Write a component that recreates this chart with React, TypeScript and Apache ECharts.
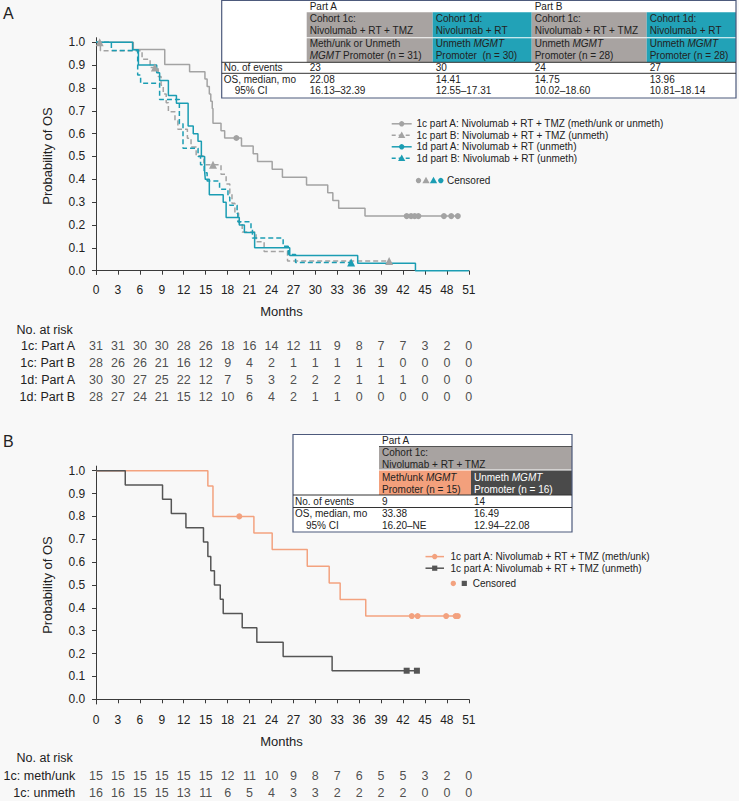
import React, { useEffect, useRef } from "react";
import * as echarts from "echarts";

const FONT = "'Liberation Sans', Arial, Helvetica, sans-serif";
const BG = "#f8f8f8";
const GRAY = "#a3a3a3";
const TEAL = "#1b9db3";
const ORANGE = "#f3a27f";
const DARK = "#555555";
const CELL_GRAY = "#a8a3a1";
const CELL_TEAL = "#22a2b7";
const CELL_ORANGE = "#f3a07c";
const CELL_DARK = "#4a4a4a";
const BORDER = "#4d5a7c";
const INK = "#222222";

// ---------- axes ----------
const MONTH_TICKS = [0, 3, 6, 9, 12, 15, 18, 21, 24, 27, 30, 33, 36, 39, 42, 45, 48, 51];
const PROB_TICKS = [0, 0.1, 0.2, 0.3, 0.4, 0.5, 0.6, 0.7, 0.8, 0.9, 1.0];

// ---------- Panel A: KM data (event times / survival after event) ----------
const A_1C_PA_TIMES = [5.1, 9.4, 12.8, 14.9, 15.2, 15.5, 15.7, 15.9, 16.0, 17.1, 17.6, 19.9, 21.5, 22.1, 24.1, 25.5, 28.8, 31.7, 32.4, 33.2, 36.8];
const A_1C_PA_SURV = [0.968, 0.903, 0.871, 0.839, 0.806, 0.774, 0.742, 0.71, 0.645, 0.613, 0.581, 0.546, 0.512, 0.478, 0.444, 0.409, 0.375, 0.341, 0.307, 0.273, 0.239];
const A_1C_PA_CENSOR = [19.2, 42.5, 43.1, 43.6, 44.1, 47.6, 48.6, 49.5];

const A_1C_PB_TIMES = [0.6, 6.3, 7.4, 8.5, 8.9, 9.2, 9.6, 9.9, 10.8, 11.2, 12.5, 13.0, 13.7, 14.75, 17.1, 17.8, 18.3, 18.6, 19.0, 19.5, 20.0, 21.9, 23.0, 26.2];
const A_1C_PB_SURV = [0.963, 0.926, 0.889, 0.85, 0.812, 0.773, 0.735, 0.696, 0.657, 0.619, 0.58, 0.541, 0.503, 0.464, 0.422, 0.38, 0.338, 0.295, 0.253, 0.211, 0.169, 0.127, 0.084, 0.042];
const A_1C_PB_CENSOR = [0.5, 8.05, 16.0, 40.1];

const A_1D_PA_TIMES = [5.0, 5.8, 8.3, 8.7, 9.9, 11.0, 12.6, 13.3, 13.95, 14.41, 14.86, 14.95, 15.5, 17.4, 17.8, 19.6, 20.3, 21.7, 26.5, 35.8, 43.7];
const A_1D_PA_SURV = [0.967, 0.9, 0.867, 0.833, 0.767, 0.733, 0.633, 0.6, 0.567, 0.5, 0.433, 0.4, 0.333, 0.3, 0.233, 0.2, 0.167, 0.1, 0.067, 0.033, 0.0];
const A_1D_PA_CENSOR: number[] = [];

const A_1D_PB_TIMES = [2.1, 5.7, 6.1, 8.7, 11.4, 11.9, 13.96, 14.3, 14.8, 15.2, 16.9, 18.05, 18.3, 19.3, 19.4, 21.2, 21.4, 25.6, 26.3, 27.3];
const A_1D_PB_SURV = [0.964, 0.857, 0.821, 0.75, 0.643, 0.536, 0.5, 0.464, 0.429, 0.393, 0.357, 0.321, 0.286, 0.25, 0.214, 0.179, 0.143, 0.107, 0.071, 0.036];
const A_1D_PB_CENSOR = [34.9];

// ---------- Panel A: number at risk ----------
const A_RISK_LABELS = ["1c: Part A", "1c: Part B", "1d: Part A", "1d: Part B"];
const A_RISK_1C_PA = [31, 31, 30, 30, 28, 26, 18, 16, 14, 12, 11, 9, 8, 7, 7, 3, 2, 0];
const A_RISK_1C_PB = [28, 26, 26, 21, 16, 12, 9, 4, 2, 1, 1, 1, 1, 1, 0, 0, 0, 0];
const A_RISK_1D_PA = [30, 30, 27, 25, 22, 12, 7, 5, 3, 2, 2, 2, 1, 1, 1, 0, 0, 0];
const A_RISK_1D_PB = [28, 27, 24, 21, 15, 12, 10, 6, 4, 2, 1, 1, 0, 0, 0, 0, 0, 0];

// ---------- Panel B: KM data ----------
const B_METH_TIMES = [15.3, 16.0, 21.6, 24.1, 28.9, 31.9, 33.4, 36.9];
const B_METH_SURV = [0.933, 0.8, 0.727, 0.655, 0.582, 0.509, 0.436, 0.364];
const B_METH_CENSOR = [19.6, 43.2, 44.0, 47.9, 49.2, 49.5];

const B_UNMETH_TIMES = [4.0, 9.1, 10.3, 12.3, 14.7, 15.3, 15.7, 16.2, 17.0, 17.4, 20.0, 22.0, 25.6, 32.3];
const B_UNMETH_SURV = [0.9375, 0.875, 0.8125, 0.75, 0.6875, 0.625, 0.5625, 0.5, 0.4375, 0.375, 0.3125, 0.25, 0.1875, 0.125];
const B_UNMETH_CENSOR = [42.5, 43.9];

const B_RISK_LABELS = ["1c: meth/unk", "1c: unmeth"];
const B_RISK_METH = [15, 15, 15, 15, 15, 15, 12, 11, 10, 9, 8, 7, 6, 5, 5, 3, 2, 0];
const B_RISK_UNMETH = [16, 16, 15, 15, 13, 11, 6, 5, 4, 3, 3, 2, 2, 2, 2, 0, 0, 0];

// ---------- helpers ----------
function kmSteps(times: number[], surv: number[], end: number) {
  const pts: number[][] = [[0, 1]];
  times.forEach((t, i) => pts.push([t, surv[i]]));
  const last = pts[pts.length - 1];
  if (end > last[0]) pts.push([end, last[1]]);
  return pts;
}
function levelAt(times: number[], surv: number[], t: number) {
  let s = 1;
  for (let i = 0; i < times.length; i++) if (times[i] <= t) s = surv[i];
  return s;
}
function censorPts(times: number[], surv: number[], cens: number[]) {
  return cens.map((c) => [c, levelAt(times, surv, c)]);
}
function lastTime(times: number[], cens: number[]) {
  return Math.max(times[times.length - 1], ...(cens.length ? cens : [0]));
}

function txt(x: number, y: number, text: string, o: any = {}) {
  return {
    type: "text", x, y, silent: true, z: 50,
    style: { text, fontSize: 10, fontFamily: FONT, fill: INK, align: "left", verticalAlign: "middle", ...o },
  };
}
function rtxt(x: number, y: number, text: string, fill = INK, size = 10) {
  const base = { fontSize: size, fontFamily: FONT, fill };
  return {
    type: "text", x, y, silent: true, z: 50,
    style: {
      text, ...base, align: "left", verticalAlign: "middle",
      rich: { i: { ...base, fontStyle: "italic" }, n: { ...base } },
    },
  };
}
function rect(x: number, y: number, w: number, h: number, fill: string, o: any = {}) {
  return { type: "rect", silent: true, z: 40, shape: { x, y, width: w, height: h }, style: { fill, ...o } };
}
function hline(x1: number, x2: number, y: number, stroke: string, w = 1) {
  return { type: "line", silent: true, z: 45, shape: { x1, y1: y, x2, y2: y }, style: { stroke, lineWidth: w } };
}
function tri(cx: number, cy: number, r: number, fill: string) {
  return {
    type: "polygon", silent: true, z: 50,
    shape: { points: [[cx, cy - r], [cx + r * 0.95, cy + r * 0.7], [cx - r * 0.95, cy + r * 0.7]] },
    style: { fill },
  };
}
function dot(cx: number, cy: number, r: number, fill: string) {
  return { type: "circle", silent: true, z: 50, shape: { cx, cy, r }, style: { fill } };
}
function sq(cx: number, cy: number, r: number, fill: string) {
  return rect(cx - r, cy - r, 2 * r, 2 * r, fill, {});
}
function legendLine(x1: number, x2: number, y: number, color: string, dashed: boolean) {
  return {
    type: "line", silent: true, z: 50, shape: { x1, y1: y, x2, y2: y },
    style: { stroke: color, lineWidth: 1.5, lineDash: dashed ? [4, 3] : null },
  };
}

function tableA() {
  const X = [221.7, 306.7, 432.7, 531.7, 646.7, 736];
  const Y = [0.5, 12.3, 37.7, 62.3, 73.3, 98];
  const fills = [CELL_GRAY, CELL_TEAL, CELL_GRAY, CELL_TEAL];
  const els: any[] = [rect(X[0], Y[0], X[5] - X[0], Y[5] - Y[0], "#ffffff")];
  for (let c = 0; c < 4; c++) {
    els.push(rect(X[c + 1], Y[1], X[c + 2] - X[c + 1], Y[2] - Y[1] - 0.5, fills[c]));
    els.push(rect(X[c + 1], Y[2] + 0.5, X[c + 2] - X[c + 1], Y[3] - Y[2] - 0.5, fills[c]));
  }
  els.push(hline(X[0], X[5], Y[3], "#333333", 1));
  els.push(hline(X[0], X[5], Y[4], "#333333", 1));
  els.push(rect(X[0], Y[0], X[5] - X[0], Y[5] - Y[0], "none", { stroke: BORDER, lineWidth: 1.2 }));
  els.push(txt(X[1] + 3, 6.4, "Part A"));
  els.push(txt(X[3] + 3, 6.4, "Part B"));
  const cohort = [
    ["Cohort 1c:", "Nivolumab + RT + TMZ"],
    ["Cohort 1d:", "Nivolumab + RT"],
    ["Cohort 1c:", "Nivolumab + RT + TMZ"],
    ["Cohort 1d:", "Nivolumab + RT"],
  ];
  const prom = [
    ["{n|Meth/unk or Unmeth}", "{i|MGMT}{n| Promoter (n = 31)}"],
    ["{n|Unmeth }{i|MGMT}", "{n|Promoter  (n = 30)}"],
    ["{n|Unmeth }{i|MGMT}", "{n|Promoter (n = 28)}"],
    ["{n|Unmeth }{i|MGMT}", "{n|Promoter (n = 28)}"],
  ];
  const events = ["23", "30", "24", "27"];
  const med = [
    ["22.08", "16.13\u201332.39"],
    ["14.41", "12.55\u201317.31"],
    ["14.75", "10.02\u201318.60"],
    ["13.96", "10.81\u201318.14"],
  ];
  for (let c = 0; c < 4; c++) {
    const x = X[c + 1] + 3;
    els.push(txt(x, 18.6, cohort[c][0]));
    els.push(txt(x, 30.2, cohort[c][1]));
    els.push(rtxt(x, 43.5, prom[c][0]));
    els.push(rtxt(x, 55.0, prom[c][1]));
    els.push(txt(x, 67.9, events[c]));
    els.push(txt(x, 79.9, med[c][0]));
    els.push(txt(x, 90.6, med[c][1]));
  }
  els.push(txt(X[0] + 2, 67.9, "No. of events"));
  els.push(txt(X[0] + 2, 79.9, "OS, median, mo"));
  els.push(txt(X[0] + 13, 90.6, "95% CI"));
  return els;
}

function tableB() {
  const X = [293, 379, 471, 572];
  const Y = [434.5, 446.5, 470, 495, 507.5, 532];
  const els: any[] = [rect(X[0], Y[0], X[3] - X[0], Y[5] - Y[0], "#ffffff")];
  els.push(rect(X[1], Y[1], X[3] - X[1], Y[2] - Y[1] - 0.5, CELL_GRAY));
  els.push(rect(X[1], Y[2] + 0.5, X[2] - X[1], Y[3] - Y[2] - 0.5, CELL_ORANGE));
  els.push(rect(X[2], Y[2] + 0.5, X[3] - X[2], Y[3] - Y[2] - 0.5, CELL_DARK));
  els.push(hline(X[0], X[3], Y[3], "#333333", 1));
  els.push(hline(X[0], X[3], Y[4], "#333333", 1));
  els.push(hline(X[1], X[3], Y[1], "#333333", 0.8));
  els.push(rect(X[0], Y[0], X[3] - X[0], Y[5] - Y[0], "none", { stroke: BORDER, lineWidth: 1.2 }));
  els.push(txt(X[1] + 3, 440.6, "Part A"));
  els.push(txt(X[1] + 3, 452.6, "Cohort 1c:"));
  els.push(txt(X[1] + 3, 464.2, "Nivolumab + RT + TMZ"));
  els.push(rtxt(X[1] + 3, 477.0, "{n|Meth/unk }{i|MGMT}"));
  els.push(rtxt(X[1] + 3, 489.0, "{n|Promoter (n = 15)}"));
  els.push(rtxt(X[2] + 3, 477.0, "{n|Unmeth }{i|MGMT}", "#ffffff"));
  els.push(rtxt(X[2] + 3, 489.0, "{n|Promoter (n = 16)}", "#ffffff"));
  els.push(txt(X[1] + 3, 501.4, "9"));
  els.push(txt(X[2] + 3, 501.4, "14"));
  els.push(txt(X[1] + 3, 513.6, "33.38"));
  els.push(txt(X[1] + 3, 525.4, "16.20\u2013NE"));
  els.push(txt(X[2] + 3, 513.6, "16.49"));
  els.push(txt(X[2] + 3, 525.4, "12.94\u201322.08"));
  els.push(txt(X[0] + 2, 501.4, "No. of events"));
  els.push(txt(X[0] + 2, 513.6, "OS, median, mo"));
  els.push(txt(X[0] + 13, 525.4, "95% CI"));
  return els;
}

function legends() {
  const els: any[] = [];
  const lx1 = 391.7, lx2 = 411.7, lm = 401.7, tx = 416.5;
  const rowsA = [
    { y: 123.8, c: GRAY, d: false, m: "c", t: "1c part A: Nivolumab + RT + TMZ (meth/unk or unmeth)" },
    { y: 135.3, c: GRAY, d: true, m: "t", t: "1c part B: Nivolumab + RT + TMZ (unmeth)" },
    { y: 146.8, c: TEAL, d: false, m: "c", t: "1d part A: Nivolumab + RT (unmeth)" },
    { y: 158.3, c: TEAL, d: true, m: "t", t: "1d part B: Nivolumab + RT (unmeth)" },
  ];
  rowsA.forEach((r) => {
    els.push(legendLine(lx1, lx2, r.y, r.c, r.d));
    els.push(r.m === "c" ? dot(lm, r.y, 2.7, r.c) : tri(lm, r.y, 3.8, r.c));
    els.push(txt(tx, r.y, r.t));
  });
  const cy = 180.6;
  els.push(dot(418.5, cy, 2.7, GRAY));
  els.push(tri(426, cy, 3.8, GRAY));
  els.push(tri(433.5, cy, 3.8, TEAL));
  els.push(dot(440.8, cy, 2.7, TEAL));
  els.push(txt(447, cy, "Censored"));

  const bx1 = 425.5, bx2 = 444, bm = 434.7, btx = 450.5;
  const rowsB = [
    { y: 556.6, c: ORANGE, m: "c", t: "1c part A: Nivolumab + RT + TMZ (meth/unk)" },
    { y: 568.2, c: DARK, m: "s", t: "1c part A: Nivolumab + RT + TMZ (unmeth)" },
  ];
  rowsB.forEach((r) => {
    els.push(legendLine(bx1, bx2, r.y, r.c, false));
    els.push(r.m === "c" ? dot(bm, r.y, 2.7, r.c) : sq(bm, r.y, 2.6, r.c));
    els.push(txt(btx, r.y, r.t));
  });
  els.push(dot(453.3, 583.4, 2.7, ORANGE));
  els.push(sq(464.3, 583.4, 2.6, DARK));
  els.push(txt(472.7, 583.4, "Censored"));
  return els;
}

const GRID_LEFT = 94.2;
const GRID_W = 374.6;
const X_MIN = -0.25;
const X_MAX = 51;

function mainX(gridIndex: number) {
  return {
    type: "value", gridIndex, min: X_MIN, max: X_MAX,
    axisLine: { show: true, lineStyle: { color: "#3a3a3a", width: 1 } },
    axisTick: { show: true, length: 4, customValues: MONTH_TICKS, lineStyle: { color: "#3a3a3a" } },
    axisLabel: { show: true, customValues: MONTH_TICKS, fontSize: 12, fontFamily: FONT, color: INK, margin: 10 },
    splitLine: { show: false },
    name: "Months", nameLocation: "middle", nameGap: 31,
    nameTextStyle: { fontSize: 13, fontFamily: FONT, color: INK },
  };
}
function mainY(gridIndex: number, min: number) {
  return {
    type: "value", gridIndex, min, max: 1.02,
    axisLine: { show: true, lineStyle: { color: "#3a3a3a", width: 1 } },
    axisTick: { show: true, length: 4, customValues: PROB_TICKS, lineStyle: { color: "#3a3a3a" } },
    axisLabel: {
      show: true, customValues: PROB_TICKS, fontSize: 12, fontFamily: FONT, color: INK, margin: 9,
      formatter: (v: number) => v.toFixed(1),
    },
    splitLine: { show: false },
    name: "Probability of OS", nameLocation: "middle", nameGap: 40,
    nameTextStyle: { fontSize: 13, fontFamily: FONT, color: INK },
  };
}
function riskX(gridIndex: number) {
  return { type: "value", gridIndex, min: X_MIN, max: X_MAX, show: false };
}
function riskY(gridIndex: number, labels: string[]) {
  return {
    type: "category", gridIndex, data: labels, inverse: true,
    axisLine: { show: false }, axisTick: { show: false }, splitLine: { show: false },
    axisLabel: { interval: 0, fontSize: 12.5, fontFamily: FONT, color: INK, margin: 19 },
  };
}

function kmSeries(name: string, xi: number, times: number[], surv: number[], end: number, color: string, dashed: boolean) {
  return {
    type: "line", name, xAxisIndex: xi, yAxisIndex: xi, step: "end",
    data: kmSteps(times, surv, end), symbol: "none", showSymbol: false, silent: true,
    lineStyle: { color, width: 1.5, type: dashed ? [5, 3] : "solid" },
    z: 3,
  };
}
function censorSeries(xi: number, times: number[], surv: number[], cens: number[], color: string, symbol: string, size: number) {
  return {
    type: "scatter", xAxisIndex: xi, yAxisIndex: xi, symbol, symbolSize: size, silent: true,
    data: censorPts(times, surv, cens), itemStyle: { color, opacity: 1 }, z: 4,
  };
}
function riskSeries(xi: number, rows: number[][]) {
  const data: any[] = [];
  rows.forEach((row, r) => row.forEach((v, i) => data.push([MONTH_TICKS[i], r, v])));
  return {
    type: "scatter", xAxisIndex: xi, yAxisIndex: xi, symbolSize: 1, silent: true,
    itemStyle: { color: "rgba(0,0,0,0)" },
    label: {
      show: true, position: "inside", fontSize: 12.5, fontFamily: FONT, color: INK,
      formatter: (p: any) => String(p.value[2]),
    },
    labelLayout: { hideOverlap: false },
    data,
  };
}

function buildOption() {
  return {
    animation: false,
    backgroundColor: BG,
    textStyle: { fontFamily: FONT },
    grid: [
      { left: GRID_LEFT, width: GRID_W, top: 37.7, height: 236.65 },
      { left: GRID_LEFT, width: GRID_W, top: 337.5, height: 68 },
      { left: GRID_LEFT, width: GRID_W, top: 466.1, height: 237.9 },
      { left: GRID_LEFT, width: GRID_W, top: 767.5, height: 34 },
    ],
    xAxis: [mainX(0), riskX(1), mainX(2), riskX(3)],
    yAxis: [mainY(0, -0.016), riskY(1, A_RISK_LABELS), mainY(2, -0.0206), riskY(3, B_RISK_LABELS)],
    series: [
      kmSeries("1c part A", 0, A_1C_PA_TIMES, A_1C_PA_SURV, lastTime(A_1C_PA_TIMES, A_1C_PA_CENSOR), GRAY, false),
      kmSeries("1c part B", 0, A_1C_PB_TIMES, A_1C_PB_SURV, lastTime(A_1C_PB_TIMES, A_1C_PB_CENSOR), GRAY, true),
      kmSeries("1d part A", 0, A_1D_PA_TIMES, A_1D_PA_SURV, 51, TEAL, false),
      kmSeries("1d part B", 0, A_1D_PB_TIMES, A_1D_PB_SURV, lastTime(A_1D_PB_TIMES, A_1D_PB_CENSOR), TEAL, true),
      censorSeries(0, A_1C_PA_TIMES, A_1C_PA_SURV, A_1C_PA_CENSOR, GRAY, "circle", 6),
      censorSeries(0, A_1C_PB_TIMES, A_1C_PB_SURV, A_1C_PB_CENSOR, GRAY, "triangle", 8),
      censorSeries(0, A_1D_PA_TIMES, A_1D_PA_SURV, A_1D_PA_CENSOR, TEAL, "circle", 6),
      censorSeries(0, A_1D_PB_TIMES, A_1D_PB_SURV, A_1D_PB_CENSOR, TEAL, "triangle", 8),
      riskSeries(1, [A_RISK_1C_PA, A_RISK_1C_PB, A_RISK_1D_PA, A_RISK_1D_PB]),
      kmSeries("meth/unk", 2, B_METH_TIMES, B_METH_SURV, lastTime(B_METH_TIMES, B_METH_CENSOR), ORANGE, false),
      kmSeries("unmeth", 2, B_UNMETH_TIMES, B_UNMETH_SURV, lastTime(B_UNMETH_TIMES, B_UNMETH_CENSOR), DARK, false),
      censorSeries(2, B_METH_TIMES, B_METH_SURV, B_METH_CENSOR, ORANGE, "circle", 6),
      censorSeries(2, B_UNMETH_TIMES, B_UNMETH_SURV, B_UNMETH_CENSOR, DARK, "rect", 6),
      riskSeries(3, [B_RISK_METH, B_RISK_UNMETH]),
    ],
    graphic: {
      elements: [
        txt(3, 13, "A", { fontSize: 16 }),
        txt(3, 441.7, "B", { fontSize: 16 }),
        txt(16.5, 330, "No. at risk", { fontSize: 12.5 }),
        txt(16.5, 758, "No. at risk", { fontSize: 12.5 }),
        ...tableA(),
        ...tableB(),
        ...legends(),
      ],
    },
  };
}

export default function App() {
  const ref = useRef<HTMLDivElement>(null);
  useEffect(() => {
    document.body.style.margin = "0";
    document.body.style.background = BG;
    const chart = echarts.init(ref.current as HTMLDivElement, null, { renderer: "svg" });
    chart.setOption(buildOption() as any);
    return () => chart.dispose();
  }, []);
  return <div ref={ref} style={{ width: 739, height: 801, background: BG }} />;
}
